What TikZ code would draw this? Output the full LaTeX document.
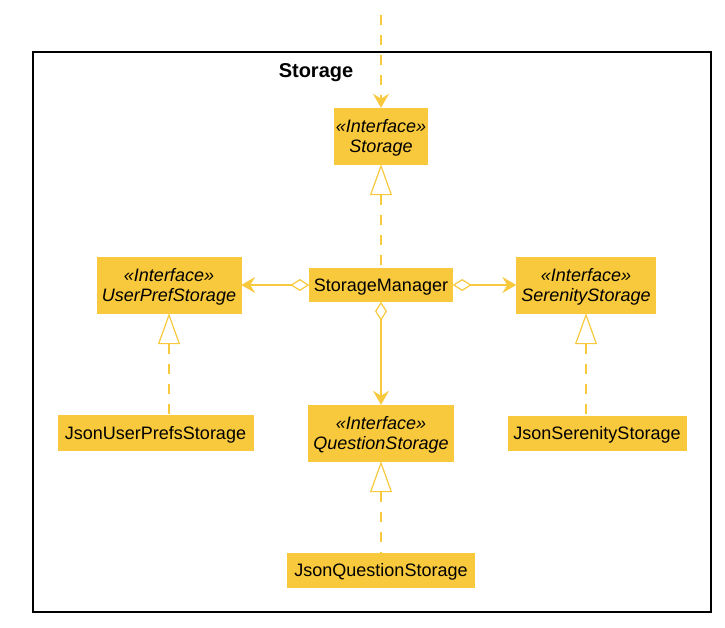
\documentclass[tikz,border=0pt]{standalone}
\usepackage{fontspec}
\setmainfont{Liberation Sans}
\usepackage{tikz}
\usetikzlibrary{arrows.meta}

\definecolor{umlyellow}{RGB}{248,201,61}

\tikzset{
    cls/.style={fill=umlyellow, draw=umlyellow, inner sep=0pt, align=center, text depth=0pt,
        font=\fontsize{18}{20}\selectfont},
    iface/.style={cls, font=\fontsize{18}{20}\selectfont\itshape},
    realize/.style={draw=umlyellow, line width=1.8pt, dash pattern=on 10pt off 10pt,
        {Triangle[open, length=31pt, width=22pt, fill=white, line width=1.2pt]}-},
    aggr/.style={draw=umlyellow, line width=1.4pt,
        {Diamond[open, length=19pt, width=12pt, fill=white, line width=1.2pt]}-{Stealth[length=14pt, width=16pt, inset=5pt]}},
}

\begin{document}
\begin{tikzpicture}[x=1pt, y=-1pt]
    \useasboundingbox (0,0) rectangle (725,627);

    % Package frame
    \draw[line width=1.5pt] (33,52) rectangle (711,612);
    \node[font=\fontsize{20}{22}\selectfont\bfseries, text depth=0pt] (title) at (316,71) {Storage};

    % Interfaces
    \node[iface, minimum width=93pt, minimum height=56pt] (storage) at (381,136) {«Interface»\\Storage};
    \node[iface, minimum width=144pt, minimum height=56pt] (userpref) at (169,285) {«Interface»\\UserPrefStorage};
    \node[iface, minimum width=139pt, minimum height=56pt] (serenity) at (586,285) {«Interface»\\SerenityStorage};
    \node[iface, minimum width=145pt, minimum height=56pt] (question) at (381,433) {«Interface»\\QuestionStorage};

    % Classes
    \node[cls, minimum width=143pt, minimum height=33pt] (manager) at (381,285) {StorageManager};
    \node[cls, minimum width=195pt, minimum height=35pt] (jsonuser) at (155.5,433) {JsonUserPrefsStorage};
    \node[cls, minimum width=178pt, minimum height=34pt] (jsonserenity) at (597,433) {JsonSerenityStorage};
    \node[cls, minimum width=187pt, minimum height=34pt] (jsonquestion) at (381,570) {JsonQuestionStorage};

    % Incoming dependency
    \coordinate (entry) at (381,15);
    \draw[draw=umlyellow, line width=1.8pt, dash pattern=on 10pt off 10pt,
        -{Stealth[length=14pt, width=16pt, inset=5pt]}] (entry) -- (storage.north);

    % Realizations
    \draw[realize] (storage.south) -- (manager.north -| storage.south);
    \draw[realize] (userpref.south) -- (jsonuser.north -| userpref.south);
    \draw[realize] (serenity.south) -- (jsonserenity.north -| serenity.south);
    \draw[realize] (question.south) -- (jsonquestion.north);

    % Aggregations
    \draw[aggr] (manager.west) -- (userpref.east);
    \draw[aggr] (manager.east) -- (serenity.west);
    \draw[aggr] (manager.south) -- (question.north);
\end{tikzpicture}
\end{document}
